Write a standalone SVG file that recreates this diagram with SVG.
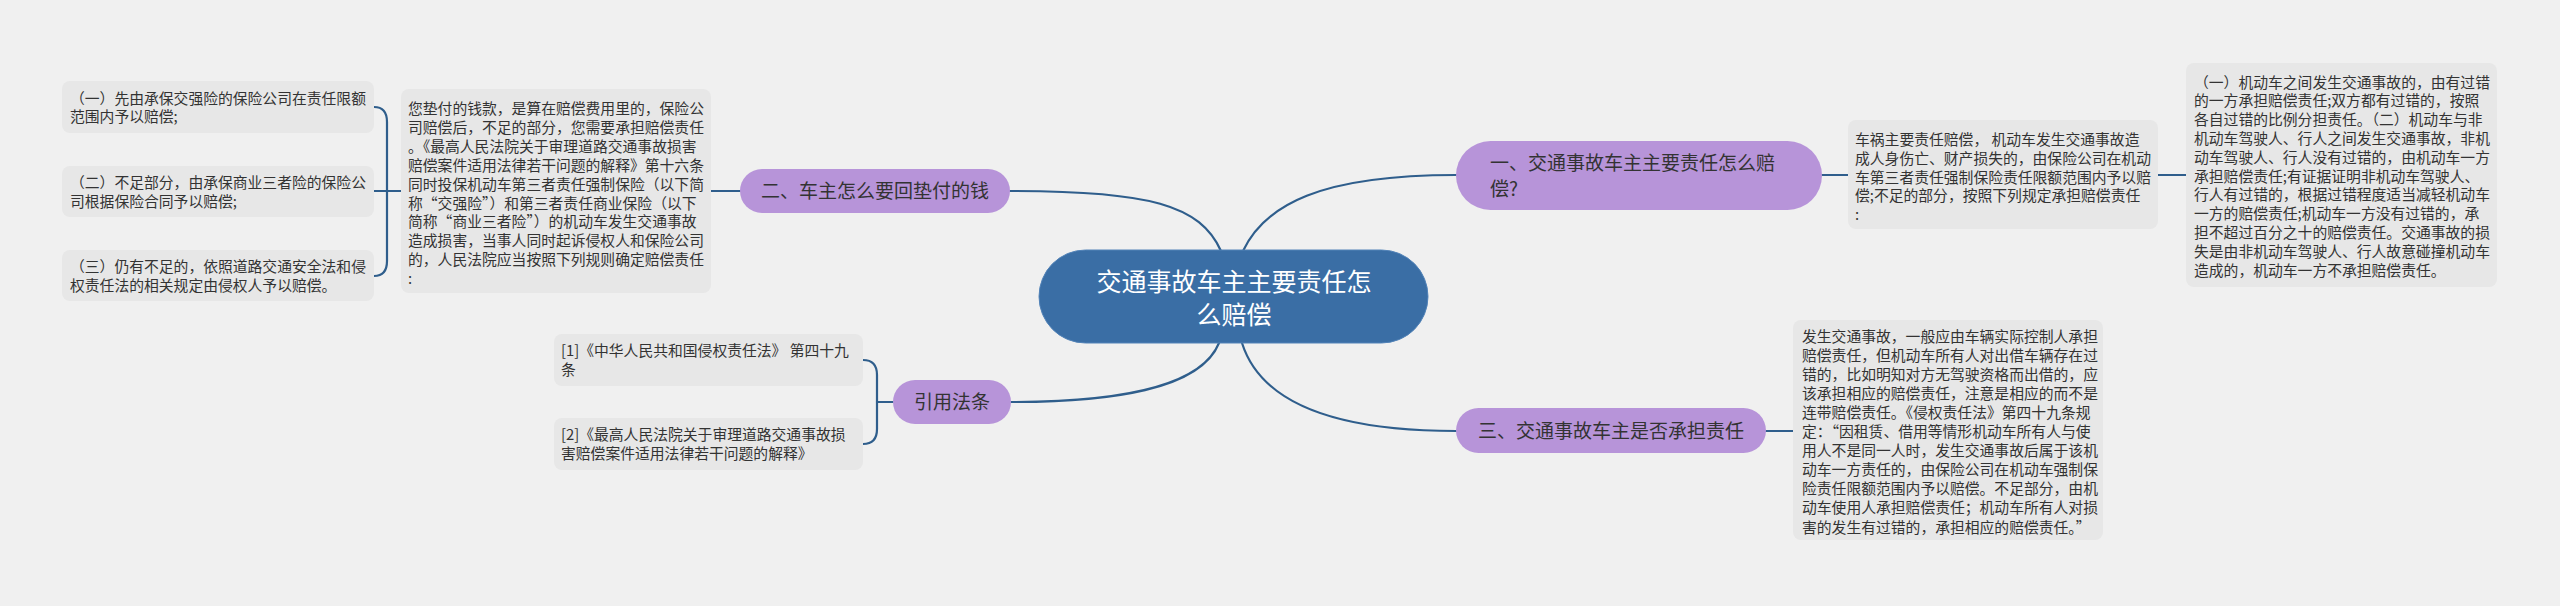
<svg xmlns="http://www.w3.org/2000/svg" width="2560" height="606" viewBox="0 0 2560 606">
<style>
.conn{fill:none;stroke:#2f5e8c;stroke-width:2.2;stroke-linecap:round}
.box{fill:#e7e7e7}
.t{font-family:"Noto Sans CJK SC","Noto Sans CJK TC",sans-serif;font-size:14.8px;fill:#333}
.pn{fill:#b794d9}
.pt{font-family:"Noto Sans CJK SC","Noto Sans CJK TC",sans-serif;font-size:19px;fill:#333}
.ct{font-family:"Noto Sans CJK SC","Noto Sans CJK TC",sans-serif;font-size:25px;fill:#fff;text-anchor:middle}
</style>
<rect width="2560" height="606" fill="#f0f0f0"/>
<g id="connectors">
<path class="conn" d="M1010,191 C1150,191 1200,205 1221,251"/>
<path class="conn" d="M1243,251 C1265,205 1320,175 1456,175"/>
<path class="conn" d="M1011,402 C1110,402 1200,390 1219,343"/>
<path class="conn" d="M1242,343 C1260,400 1330,431 1456,431"/>
<path class="conn" d="M740,191 H711"/>
<path class="conn" d="M401,191 H374"/>
<path class="conn" d="M374,107 C383,107 387,112 387,122 V261 C387,271 383,276 374,276"/>
<path class="conn" d="M893,402 H877"/>
<path class="conn" d="M863,360 C872,360 877,365 877,375 V429 C877,439 872,444 863,444"/>
<path class="conn" d="M1822,175 H1848"/>
<path class="conn" d="M2158,175 H2186"/>
<path class="conn" d="M1766,431 H1793"/>
</g>
<g id="center">
<rect x="1039" y="250" width="389" height="93" rx="46.5" fill="#3a6ea5" stroke="#5283b8" stroke-width="1"/>
<text class="ct" x="1234" y="291">交通事故车主主要责任怎</text>
<text class="ct" x="1234" y="324">么赔偿</text>
</g>
<g id="node-2">
<rect class="pn" x="740" y="169" width="270" height="44" rx="22"/>
<text class="pt" x="761" y="198">二、车主怎么要回垫付的钱</text>
</g>
<g id="node-2-detail">
<rect class="box" x="401" y="89" width="310" height="204" rx="8"/>
<text class="t" x="408" y="114">您垫付的钱款，是算在赔偿费用里的，保险公</text>
<text class="t" x="408" y="132.9">司赔偿后，不足的部分，您需要承担赔偿责任</text>
<text class="t" x="408" y="151.8">。《最高人民法院关于审理道路交通事故损害</text>
<text class="t" x="408" y="170.7">赔偿案件适用法律若干问题的解释》第十六条</text>
<text class="t" x="408" y="189.6">同时投保机动车第三者责任强制保险（以下简</text>
<text class="t" x="408" y="208.5">称“交强险”）和第三者责任商业保险（以下</text>
<text class="t" x="408" y="227.4">简称“商业三者险”）的机动车发生交通事故</text>
<text class="t" x="408" y="246.3">造成损害，当事人同时起诉侵权人和保险公司</text>
<text class="t" x="408" y="265.2">的，人民法院应当按照下列规则确定赔偿责任</text>
<text class="t" x="408" y="284.1">:</text>
</g>
<g id="leaf-2-1">
<rect class="box" x="62" y="81" width="312" height="52" rx="8"/>
<text class="t" x="70" y="103.5">（一）先由承保交强险的保险公司在责任限额</text>
<text class="t" x="70" y="122.3">范围内予以赔偿;</text>
</g>
<g id="leaf-2-2">
<rect class="box" x="62" y="166" width="312" height="51" rx="8"/>
<text class="t" x="70" y="187.7">（二）不足部分，由承保商业三者险的保险公</text>
<text class="t" x="70" y="206.5">司根据保险合同予以赔偿;</text>
</g>
<g id="leaf-2-3">
<rect class="box" x="62" y="250" width="312" height="51" rx="8"/>
<text class="t" x="70" y="271.7">（三）仍有不足的，依照道路交通安全法和侵</text>
<text class="t" x="70" y="290.5">权责任法的相关规定由侵权人予以赔偿。</text>
</g>
<g id="node-law">
<rect class="pn" x="893" y="380" width="118" height="44" rx="22"/>
<text class="pt" x="914" y="409">引用法条</text>
</g>
<g id="law-1">
<rect class="box" x="554" y="334" width="309" height="52" rx="8"/>
<text class="t" x="561" y="356.3">[1]《中华人民共和国侵权责任法》 第四十九</text>
<text class="t" x="561" y="375.1">条</text>
</g>
<g id="law-2">
<rect class="box" x="554" y="418" width="309" height="52" rx="8"/>
<text class="t" x="561" y="440.3">[2]《最高人民法院关于审理道路交通事故损</text>
<text class="t" x="561" y="459.1">害赔偿案件适用法律若干问题的解释》</text>
</g>
<g id="node-1">
<rect class="pn" x="1456" y="141" width="366" height="69" rx="34.5"/>
<text class="pt" x="1490" y="170">一、交通事故车主主要责任怎么赔</text>
<text class="pt" x="1490" y="196">偿?</text>
</g>
<g id="node-1-detail">
<rect class="box" x="1848" y="120" width="310" height="109" rx="8"/>
<text class="t" x="1855" y="145">车祸主要责任赔偿， 机动车发生交通事故造</text>
<text class="t" x="1855" y="163.8">成人身伤亡、财产损失的，由保险公司在机动</text>
<text class="t" x="1855" y="182.6">车第三者责任强制保险责任限额范围内予以赔</text>
<text class="t" x="1855" y="201.4">偿;不足的部分，按照下列规定承担赔偿责任</text>
<text class="t" x="1855" y="220.2">:</text>
</g>
<g id="node-1-leaf">
<rect class="box" x="2186" y="63" width="311" height="224" rx="8"/>
<text class="t" x="2194" y="87.6">（一）机动车之间发生交通事故的，由有过错</text>
<text class="t" x="2194" y="106.4">的一方承担赔偿责任;双方都有过错的，按照</text>
<text class="t" x="2194" y="125.2">各自过错的比例分担责任。（二）机动车与非</text>
<text class="t" x="2194" y="144">机动车驾驶人、行人之间发生交通事故，非机</text>
<text class="t" x="2194" y="162.8">动车驾驶人、行人没有过错的，由机动车一方</text>
<text class="t" x="2194" y="181.6">承担赔偿责任;有证据证明非机动车驾驶人、</text>
<text class="t" x="2194" y="200.4">行人有过错的，根据过错程度适当减轻机动车</text>
<text class="t" x="2194" y="219.2">一方的赔偿责任;机动车一方没有过错的，承</text>
<text class="t" x="2194" y="238">担不超过百分之十的赔偿责任。交通事故的损</text>
<text class="t" x="2194" y="256.8">失是由非机动车驾驶人、行人故意碰撞机动车</text>
<text class="t" x="2194" y="275.6">造成的，机动车一方不承担赔偿责任。</text>
</g>
<g id="node-3">
<rect class="pn" x="1456" y="408" width="310" height="45" rx="22.5"/>
<text class="pt" x="1478" y="438">三、交通事故车主是否承担责任</text>
</g>
<g id="node-3-detail">
<rect class="box" x="1793" y="320" width="310" height="220" rx="8"/>
<text class="t" x="1802" y="341.5">发生交通事故，一般应由车辆实际控制人承担</text>
<text class="t" x="1802" y="360.6">赔偿责任，但机动车所有人对出借车辆存在过</text>
<text class="t" x="1802" y="379.7">错的，比如明知对方无驾驶资格而出借的，应</text>
<text class="t" x="1802" y="398.8">该承担相应的赔偿责任，注意是相应的而不是</text>
<text class="t" x="1802" y="417.9">连带赔偿责任。《侵权责任法》第四十九条规</text>
<text class="t" x="1802" y="437">定：“因租赁、借用等情形机动车所有人与使</text>
<text class="t" x="1802" y="456.1">用人不是同一人时，发生交通事故后属于该机</text>
<text class="t" x="1802" y="475.2">动车一方责任的，由保险公司在机动车强制保</text>
<text class="t" x="1802" y="494.3">险责任限额范围内予以赔偿。不足部分，由机</text>
<text class="t" x="1802" y="513.4">动车使用人承担赔偿责任；机动车所有人对损</text>
<text class="t" x="1802" y="532.5">害的发生有过错的，承担相应的赔偿责任。”</text>
</g>
</svg>
